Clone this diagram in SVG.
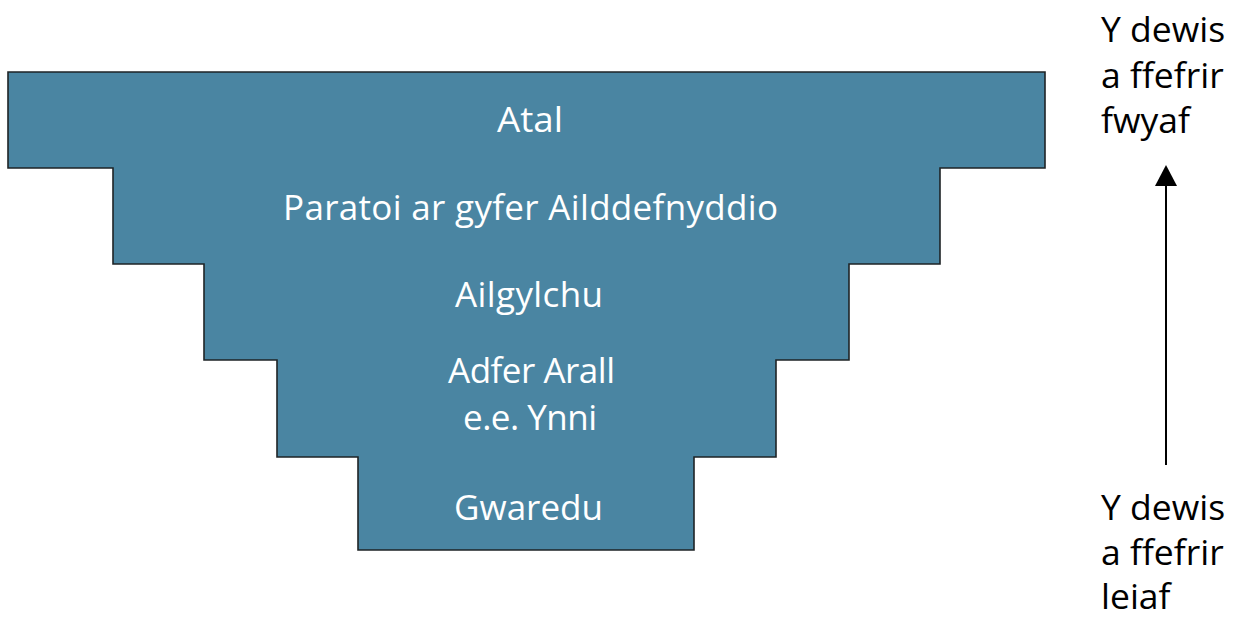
<svg xmlns="http://www.w3.org/2000/svg" width="1236" height="618" viewBox="0 0 1236 618">
<defs>
<style>
.lvl{fill:#4a85a2;stroke:none}
.edge{fill:none;stroke:#1e2326;stroke-width:1.6}
.w{fill:#ffffff;font-family:"Open Sans","DejaVu Sans",sans-serif;font-size:35px;text-anchor:middle}
.k{fill:#000000;font-family:"Open Sans","DejaVu Sans",sans-serif;font-size:35.5px}
</style>
</defs>
<rect width="1236" height="618" fill="#fff"/>
<g id="pyramid">
<path class="lvl" d="M8,72 H1045 V168 H940 V264 H849 V360 H776 V457 H694 V550 H358 V457 H277 V360 H204 V264 H113 V168 H8 Z"/>
<path class="edge" d="M8,72 H1045 V168 H940 V264 H849 V360 H776 V457 H694 V550 H358 V457 H277 V360 H204 V264 H113 V168 H8 Z"/>
</g>
<g id="node-atal"><text class="w" x="530" y="132" textLength="66" lengthAdjust="spacingAndGlyphs">Atal</text></g>
<g id="node-paratoi"><text class="w" x="530.5" y="220" textLength="495" lengthAdjust="spacing">Paratoi ar gyfer Ailddefnyddio</text></g>
<g id="node-ailgylchu"><text class="w" x="529" y="306.5" textLength="148" lengthAdjust="spacing">Ailgylchu</text></g>
<g id="node-adfer"><text class="w"><tspan x="531.5" y="383" textLength="167" lengthAdjust="spacing">Adfer Arall</tspan><tspan x="530" y="430" textLength="134" lengthAdjust="spacing">e.e. Ynni</tspan></text></g>
<g id="node-gwaredu"><text class="w" x="528.5" y="520">Gwaredu</text></g>
<g id="connectors">
<line x1="1166" y1="465" x2="1166" y2="180" stroke="#000" stroke-width="2"/>
<path d="M1155,186 L1166,165 L1177,186 Z" fill="#000"/>
</g>
<g id="label-top">
<text class="k"><tspan x="1101" y="42">Y dewis</tspan><tspan x="1101" y="88">a ffefrir</tspan><tspan x="1101" y="133">fwyaf</tspan></text>
</g>
<g id="label-bottom">
<text class="k"><tspan x="1101" y="520">Y dewis</tspan><tspan x="1101" y="565">a ffefrir</tspan><tspan x="1101" y="609">leiaf</tspan></text>
</g>
</svg>
